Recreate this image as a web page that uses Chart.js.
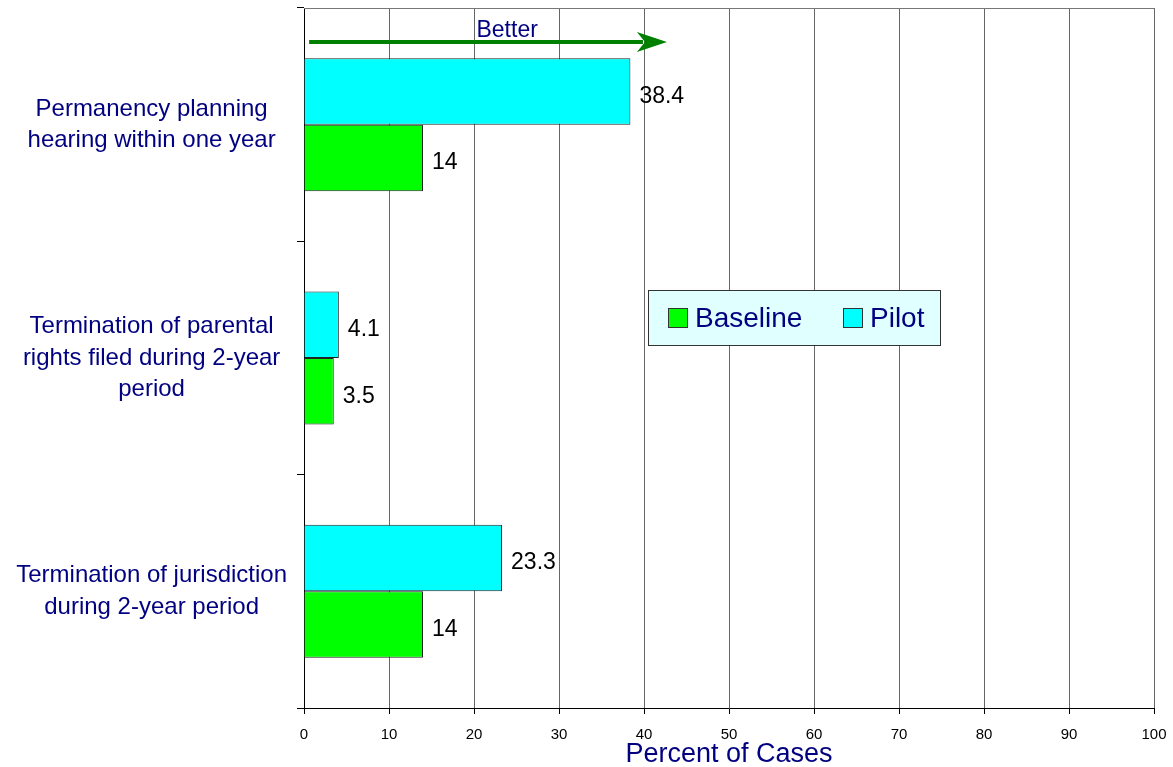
<!DOCTYPE html>
<html>
<head>
    <title>Percent of Cases</title>
    <script src="https://cdn.jsdelivr.net/npm/chart.js"></script>
    <style>
        body { margin: 0; background: #fff; }
        #wrap { width: 1173px; height: 767px; }
    </style>
</head>
<body>
    <div id="wrap"><canvas id="casesChart" width="1173" height="767"></canvas></div>

    <script>
        // outcome categories (multi-line labels)
        const categories = [
            ['Permanency planning', 'hearing within one year'],
            ['Termination of parental', 'rights filed during 2-year', 'period'],
            ['Termination of jurisdiction', 'during 2-year period']
        ];
        const pilot = [38.4, 4.1, 23.3];
        const baseline = [14, 3.5, 14];
        const xTicks = [0, 10, 20, 30, 40, 50, 60, 70, 80, 90, 100];

        const NAVY = '#000080';
        const FONT = 'Arial, "Liberation Sans", sans-serif';

        // value labels at the end of each bar
        const valueLabels = {
            id: 'valueLabels',
            afterDatasetsDraw(chart) {
                const ctx = chart.ctx;
                ctx.save();
                ctx.font = '23px ' + FONT;
                ctx.fillStyle = '#000';
                ctx.textAlign = 'left';
                ctx.textBaseline = 'middle';
                chart.data.datasets.forEach((ds, i) => {
                    chart.getDatasetMeta(i).data.forEach((bar, j) => {
                        ctx.fillText(String(ds.data[j]), bar.x + 9, bar.y + 5);
                    });
                });
                ctx.restore();
            }
        };

        // top border, "Better" arrow and boxed legend
        const extras = {
            id: 'extras',
            afterDraw(chart) {
                const ctx = chart.ctx;
                const area = chart.chartArea;
                const x = chart.scales.x;
                ctx.save();

                ctx.strokeStyle = '#777';
                ctx.lineWidth = 1;
                ctx.beginPath();
                ctx.moveTo(area.left, area.top + 0.5);
                ctx.lineTo(area.right, area.top + 0.5);
                ctx.stroke();

                // arrow
                const ax0 = x.getPixelForValue(0.6), ax1 = x.getPixelForValue(42.7);
                const ay = area.top + 34;
                ctx.strokeStyle = '#008000';
                ctx.fillStyle = '#008000';
                ctx.lineWidth = 4;
                ctx.beginPath();
                ctx.moveTo(ax0, ay);
                ctx.lineTo(ax1 - 24, ay);
                ctx.stroke();
                ctx.beginPath();
                ctx.moveTo(ax1, ay);
                ctx.lineTo(ax1 - 30, ay - 10);
                ctx.lineTo(ax1 - 22, ay);
                ctx.lineTo(ax1 - 30, ay + 10);
                ctx.closePath();
                ctx.fill();

                ctx.font = '23px ' + FONT;
                ctx.fillStyle = NAVY;
                ctx.textAlign = 'center';
                ctx.textBaseline = 'middle';
                ctx.fillText('Better', x.getPixelForValue(23.9), area.top + 23);

                // legend box
                const lx = 648, ly = 290, lw = 292, lh = 55;
                ctx.fillStyle = '#E0FFFF';
                ctx.fillRect(lx, ly, lw, lh);
                ctx.strokeStyle = '#333';
                ctx.lineWidth = 1;
                ctx.strokeRect(lx + 0.5, ly + 0.5, lw, lh);

                const items = [
                    { ds: chart.data.datasets[1], sx: 668 },
                    { ds: chart.data.datasets[0], sx: 843 }
                ];
                ctx.font = '28px ' + FONT;
                ctx.textAlign = 'left';
                items.forEach(it => {
                    ctx.fillStyle = it.ds.backgroundColor;
                    ctx.fillRect(it.sx, ly + 18, 20, 20);
                    ctx.strokeStyle = '#333';
                    ctx.strokeRect(it.sx + 0.5, ly + 18.5, 19, 19);
                    ctx.fillStyle = NAVY;
                    ctx.fillText(it.ds.label, it.sx + 27, ly + 29);
                });
                ctx.restore();
            }
        };

        const ctx = document.getElementById('casesChart').getContext('2d');
        const chart = new Chart(ctx, {
            type: 'bar',
            data: {
                labels: categories,
                datasets: [
                    {
                        label: 'Pilot',
                        data: pilot,
                        backgroundColor: '#00FFFF',
                        borderColor: '#222',
                        borderWidth: 1,
                        categoryPercentage: 0.57,
                        barPercentage: 1.0
                    },
                    {
                        label: 'Baseline',
                        data: baseline,
                        backgroundColor: '#00FF00',
                        borderColor: '#222',
                        borderWidth: 1,
                        categoryPercentage: 0.57,
                        barPercentage: 1.0
                    }
                ]
            },
            options: {
                indexAxis: 'y',
                responsive: false,
                animation: false,
                layout: { padding: { top: 8, right: 19, left: 0, bottom: 0 } },
                plugins: {
                    legend: { display: false },
                    tooltip: { enabled: false }
                },
                scales: {
                    x: {
                        min: 0,
                        max: 100,
                        afterBuildTicks: s => { s.ticks = xTicks.map(v => ({ value: v })); },
                        afterFit: s => {
                            s.height = 59;
                            s.paddingLeft = 0;
                            s.paddingRight = 0;
                        },
                        grid: {
                            color: '#666',
                            tickColor: '#000',
                            tickLength: 6
                        },
                        border: { color: '#000', width: 1 },
                        ticks: {
                            color: '#000',
                            font: { size: 15, family: FONT },
                            padding: 12
                        },
                        title: {
                            display: true,
                            text: 'Percent of Cases',
                            color: NAVY,
                            font: { size: 27, family: FONT },
                            padding: { top: 0, bottom: -4 }
                        }
                    },
                    y: {
                        afterFit: s => {
                            s.width = 304;
                            s.paddingTop = 0;
                            s.paddingBottom = 0;
                        },
                        grid: {
                            offset: true,
                            drawOnChartArea: false,
                            tickColor: '#000',
                            tickLength: 7
                        },
                        border: { color: '#000', width: 1 },
                        ticks: {
                            color: NAVY,
                            crossAlign: 'center',
                            padding: 10,
                            font: { size: 24, family: FONT, lineHeight: 1.3 }
                        }
                    }
                }
            },
            plugins: [valueLabels, extras]
        });
    </script>
</body>
</html>
